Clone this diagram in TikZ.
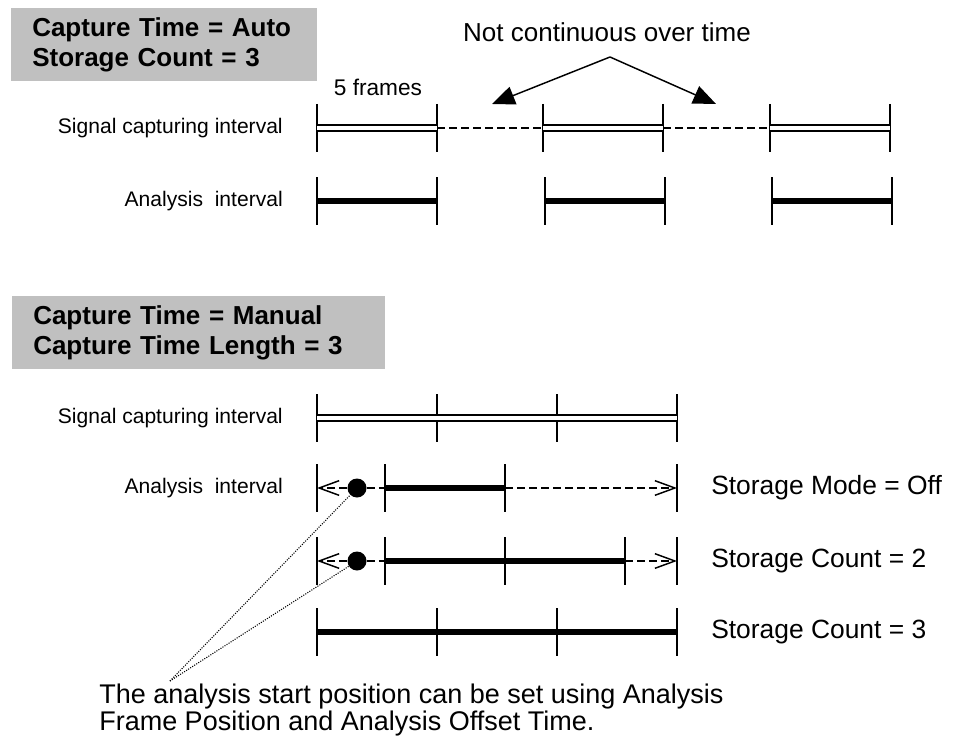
\documentclass[tikz,border=0pt]{standalone}
\usepackage{fontspec}
\setmainfont{Liberation Sans}
\usetikzlibrary{arrows.meta,positioning,calc}
\definecolor{boxgray}{HTML}{C0C0C0}

\begin{document}
\begin{tikzpicture}[x=0.75pt,y=-0.75pt,
  hdr/.style={fill=boxgray,anchor=north west,align=left,inner xsep=15.75pt,
              inner ysep=0pt,minimum height=54.75pt,
              font=\fontsize{19.5}{22.5}\selectfont\bfseries},
  rowlbl/.style={anchor=east,inner sep=0pt,font=\fontsize{15.8}{18}\selectfont},
  modelbl/.style={anchor=west,inner sep=0pt,font=\fontsize{19.8}{22}\selectfont},
  tickmark/.style={line width=1.4pt},
  sig/.style={double,double distance=2.4pt,line width=1.5pt},
  ana/.style={line width=3.8pt},
  gapline/.style={line width=1.1pt,dash pattern=on 6pt off 3pt},
  ext/.style={gapline,-{Straight Barb[length=15pt,width=11pt]}},
  call/.style={line width=1.1pt,-{Triangle[length=17pt,width=14pt]}},
  startdot/.style={circle,fill=black,inner sep=0pt,minimum size=14.25pt},
  hintline/.style={line width=0.8pt,dash pattern=on 0.8pt off 1pt},
]
  \useasboundingbox (0,0) rectangle (957,742);

  % Capture Time = Auto
  \node[hdr,text width=198pt] (autohdr) at (11,8) {Capture Time = Auto\\Storage Count = 3};
  \node[anchor=base,font=\fontsize{19.5}{22}\selectfont] (gapnote) at (607,42) {Not continuous over time};
  \node[anchor=base,font=\fontsize{17}{19}\selectfont] (frames) at (378,95) {5 frames};
  \node[rowlbl] (sig1lbl) at (283,128) {Signal capturing interval};
  \node[rowlbl] (ana1lbl) at (283,201) {Analysis\ \ interval};

  \foreach \x [count=\i] in {317,437,543,663,770,890}
    \coordinate (s\i) at (\x,128);
  \foreach \x [count=\i] in {317,437,545,665,772,892}
    \coordinate (a\i) at (\x,201);
  \foreach \i in {1,...,6} {
    \draw[tickmark] ([yshift=18pt]s\i) -- ([yshift=-18pt]s\i);
    \draw[tickmark] ([yshift=18pt]a\i) -- ([yshift=-18pt]a\i);
  }
  \draw[sig] (s1) -- (s2);
  \draw[sig] (s3) -- (s4);
  \draw[sig] (s5) -- (s6);
  \draw[gapline] (s2) -- (s3);
  \draw[gapline] (s4) -- (s5);
  \draw[ana] (a1) -- (a2);
  \draw[ana] (a3) -- (a4);
  \draw[ana] (a5) -- (a6);

  \coordinate (split) at (610,57);
  \coordinate (gapL) at (492,104);
  \coordinate (gapR) at (716,104);
  \draw[call] (split) -- (gapL);
  \draw[call] (split) -- (gapR);

  % Capture Time = Manual
  \node[hdr,text width=248.25pt] (manhdr) at (12,296) {Capture Time = Manual\\Capture Time Length = 3};
  \node[rowlbl] (sig2lbl) at (283,418) {Signal capturing interval};
  \node[rowlbl] (ana2lbl) at (283,488) {Analysis\ \ interval};

  \foreach \x [count=\i] in {317,437,557,677} {
    \coordinate (g\i) at (\x,418);
    \coordinate (t\i) at (\x,632);
    \draw[tickmark] ([yshift=18pt]g\i) -- ([yshift=-18pt]g\i);
    \draw[tickmark] ([yshift=18pt]t\i) -- ([yshift=-18pt]t\i);
  }
  \draw[sig] (g1) -- (g4);
  \draw[ana] (t1) -- (t4);

  % Storage Mode = Off
  \foreach \x [count=\i] in {317,385,505,677} {
    \coordinate (o\i) at (\x,488);
    \draw[tickmark] ([yshift=18pt]o\i) -- ([yshift=-18pt]o\i);
  }
  \node[startdot] (dot1) at (357,488) {};
  \draw[ext] (dot1) -- (o1);
  \draw[gapline] (dot1) -- (o2);
  \draw[ana] (o2) -- (o3);
  \draw[ext] (o3) -- (o4);

  % Storage Count = 2
  \foreach \x [count=\i] in {317,385,505,625,677} {
    \coordinate (c\i) at (\x,561);
    \draw[tickmark] ([yshift=18pt]c\i) -- ([yshift=-18pt]c\i);
  }
  \node[startdot] (dot2) at (357,561) {};
  \draw[ext] (dot2) -- (c1);
  \draw[gapline] (dot2) -- (c2);
  \draw[ana] (c2) -- (c4);
  \draw[ext] (c4) -- (c5);

  \node[modelbl] (offlbl) at (711,488) {Storage Mode = Off};
  \node[modelbl] (cnt2lbl) at (711,561) {Storage Count = 2};
  \node[modelbl] (cnt3lbl) at (711,632) {Storage Count = 3};

  % start position note
  \coordinate (pick) at (170,681);
  \draw[hintline] (pick) -- (dot1);
  \draw[hintline] (pick) -- (dot2);
  \node[anchor=base west,align=left,inner sep=0pt,font=\fontsize{20.25}{18}\selectfont]
    (startnote) at (99,730) {The analysis start position can be set using Analysis\\Frame Position and Analysis Offset Time.};
\end{tikzpicture}
\end{document}
